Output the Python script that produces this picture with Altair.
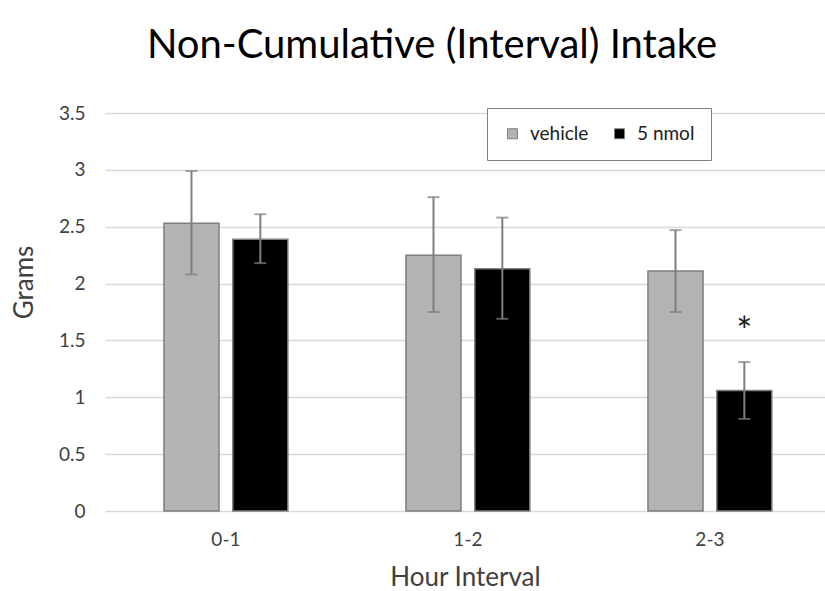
import altair as alt
import pandas as pd

# ---- data ----
intervals = ["0-1", "1-2", "2-3"]
groups = ["vehicle", "5 nmol"]
vehicle_mean = [2.53, 2.25, 2.11]
vehicle_hi = [2.99, 2.76, 2.47]
vehicle_lo = [2.08, 1.75, 1.75]
nmol_mean = [2.39, 2.13, 1.06]
nmol_hi = [2.61, 2.58, 1.31]
nmol_lo = [2.18, 1.69, 0.81]
sig_interval = ["2-3"]
sig_group = ["5 nmol"]
sig_value = [1.66]
sig_label = ["*"]
y_ticks = [0, 0.5, 1, 1.5, 2, 2.5, 3, 3.5]
group_colors = ["#b3b3b3", "#000000"]

rows = []
for i, iv in enumerate(intervals):
    rows.append({"interval": iv, "group": groups[0], "mean": vehicle_mean[i],
                 "hi": vehicle_hi[i], "lo": vehicle_lo[i]})
    rows.append({"interval": iv, "group": groups[1], "mean": nmol_mean[i],
                 "hi": nmol_hi[i], "lo": nmol_lo[i]})
df = pd.DataFrame(rows)
sig_df = pd.DataFrame({"interval": sig_interval, "group": sig_group,
                       "value": sig_value, "label": sig_label})

FONT = "Lato"
GRAY = "#7f7f7f"

x_enc = alt.X("interval:N", sort=intervals,
              scale=alt.Scale(paddingInner=0.488, paddingOuter=0.2316, align=0.526),
              axis=alt.Axis(title="Hour Interval", labelAngle=0, domain=False, ticks=False,
                            labelPadding=19, labelFontSize=19, labelColor="#404040",
                            titleFontSize=26, titleFontWeight="normal", titleColor="#404040",
                            titleY=66, titleBaseline="middle"))
xoff_enc = alt.XOffset("group:N", sort=groups, scale=alt.Scale(paddingInner=0.2))
y_scale = alt.Scale(domain=[0, 3.5], nice=False)
y_axis = alt.Axis(title="Grams", values=y_ticks, format="~g", domain=False, ticks=False,
                  labelPadding=20, labelFontSize=19, labelColor="#404040",
                  gridColor="#d9d9d9", gridWidth=1.5,
                  titleFontSize=26, titleFontWeight="normal", titleColor="#404040",
                  titleX=-81, titleY=169, titleAlign="center", titleBaseline="middle")

base = alt.Chart(df)

bars = base.mark_bar(stroke=GRAY, strokeWidth=1.5).encode(
    x=x_enc,
    xOffset=xoff_enc,
    y=alt.Y("mean:Q", scale=y_scale, axis=y_axis),
    color=alt.Color("group:N", sort=groups,
                    scale=alt.Scale(domain=groups, range=group_colors),
                    legend=alt.Legend(title=None, orient="none", legendX=382, legendY=-5,
                                      direction="horizontal", symbolType="square",
                                      symbolSize=100, symbolStrokeColor=GRAY,
                                      symbolStrokeWidth=1, labelFontSize=19,
                                      labelColor="#202020", labelOffset=8,
                                      columnPadding=21, padding=16,
                                      strokeColor=GRAY, fillColor="white")),
)

err = base.mark_rule(color=GRAY, strokeWidth=2).encode(
    x=alt.X("interval:N", sort=intervals),
    xOffset=alt.XOffset("group:N", sort=groups),
    y="lo:Q",
    y2="hi:Q",
)
cap_hi = base.mark_tick(color=GRAY, thickness=2, size=12).encode(
    x=alt.X("interval:N", sort=intervals),
    xOffset=alt.XOffset("group:N", sort=groups),
    y="hi:Q",
)
cap_lo = base.mark_tick(color=GRAY, thickness=2, size=12).encode(
    x=alt.X("interval:N", sort=intervals),
    xOffset=alt.XOffset("group:N", sort=groups),
    y="lo:Q",
)
stars = alt.Chart(sig_df).mark_text(fontSize=38, font=FONT, color="#202020",
                                    baseline="middle", dy=12).encode(
    x=alt.X("interval:N", sort=intervals),
    xOffset=alt.XOffset("group:N", sort=groups),
    y="value:Q",
    text="label:N",
)

chart = alt.layer(bars, err, cap_hi, cap_lo, stars).properties(
    width=720,
    height=398,
    title=alt.TitleParams("Non-Cumulative (Interval) Intake", fontSize=40, font=FONT,
                          fontWeight="normal", color="#000000", anchor="middle",
                          dx=-33, baseline="bottom", offset=-2),
    padding={"left": 105, "top": 113, "right": 0, "bottom": 80},
    autosize=alt.AutoSizeParams(type="none"),
    background="white",
).configure(font=FONT).configure_view(stroke=None)

chart.save("out.html", embed_options={"renderer": "svg", "actions": False})
